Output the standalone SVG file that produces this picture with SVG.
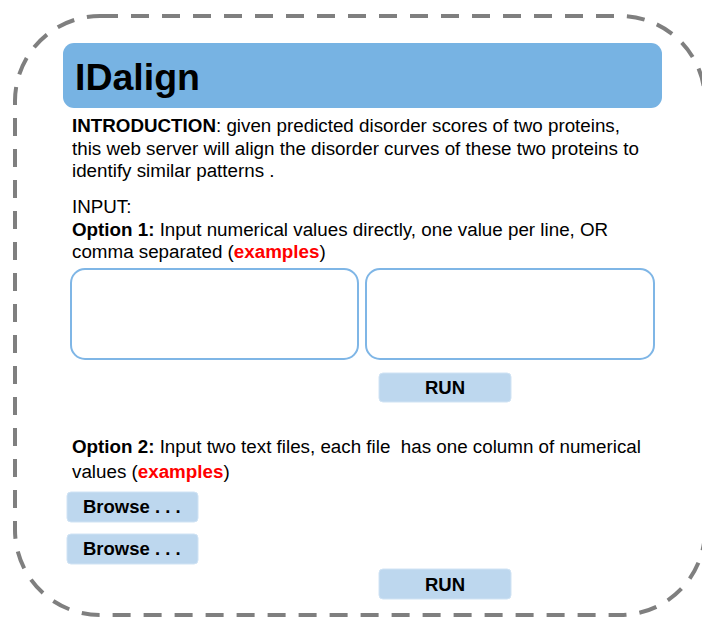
<svg xmlns="http://www.w3.org/2000/svg" width="702" height="617" viewBox="0 0 702 617">
<style>
.t{font-family:"Liberation Sans",Arial,sans-serif;font-size:18.8px;fill:#000}
.b{font-weight:bold}
.r{fill:#ff0000;font-weight:bold}
.btn{fill:#bdd7ee;stroke:#d0e3f4;stroke-width:1}
.btxt{font-family:"Liberation Sans",Arial,sans-serif;font-size:18.5px;font-weight:bold;fill:#000}
.box{fill:#fff;stroke:#7fb6e6;stroke-width:2}
</style>
<rect id="frame" x="15" y="16" width="690" height="599" rx="85" ry="85" fill="none" stroke="#7f7f7f" stroke-width="4" stroke-dasharray="18 13"/>
<g id="title">
<rect x="63" y="43" width="599" height="65" rx="11" ry="11" fill="#77b3e3"/>
<text x="75" y="90" font-family="Liberation Sans,Arial,sans-serif" font-size="37.5" font-weight="bold" fill="#000">IDalign</text>
</g>
<g id="intro">
<text class="t" x="72" y="132"><tspan class="b">INTRODUCTION</tspan>: given predicted disorder scores of two proteins,</text>
<text class="t" x="72" y="155">this web server will align the disorder curves of these two proteins to</text>
<text class="t" x="72" y="177">identify similar patterns .</text>
</g>
<g id="option1">
<text class="t" x="72" y="213">INPUT:</text>
<text class="t" x="72" y="236"><tspan class="b">Option 1:</tspan> Input numerical values directly, one value per line, OR</text>
<text class="t" x="72" y="258">comma separated (<tspan class="r">examples</tspan>)</text>
</g>
<g id="textbox1"><rect class="box" x="71" y="269" width="287" height="90" rx="14" ry="14"/></g>
<g id="textbox2"><rect class="box" x="366" y="269" width="288" height="90" rx="14" ry="14"/></g>
<g id="run1">
<rect class="btn" x="379" y="373" width="132" height="29" rx="4" ry="4"/>
<text class="btxt" x="445" y="394" text-anchor="middle">RUN</text>
</g>
<g id="option2">
<text class="t" x="72" y="453" xml:space="preserve"><tspan class="b">Option 2:</tspan> Input two text files, each file  has one column of numerical</text>
<text class="t" x="72" y="478">values (<tspan class="r">examples</tspan>)</text>
</g>
<g id="browse1">
<rect class="btn" x="67" y="492" width="131" height="30" rx="4" ry="4"/>
<text class="btxt" x="83" y="513">Browse . . .</text>
</g>
<g id="browse2">
<rect class="btn" x="67" y="534" width="131" height="30" rx="4" ry="4"/>
<text class="btxt" x="83" y="555">Browse . . .</text>
</g>
<g id="run2">
<rect class="btn" x="379" y="569" width="132" height="30" rx="4" ry="4"/>
<text class="btxt" x="445" y="591" text-anchor="middle">RUN</text>
</g>
<g id="connectors"></g>
</svg>
